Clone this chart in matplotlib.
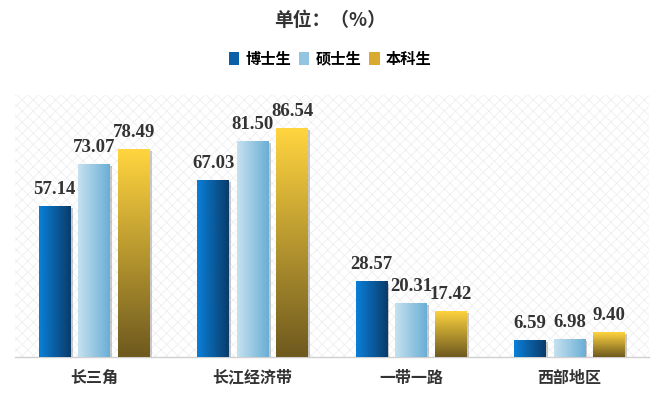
import numpy as np
import matplotlib
matplotlib.use('Agg')
import matplotlib.pyplot as plt
import matplotlib.patheffects as pe
from matplotlib.colors import LinearSegmentedColormap
from matplotlib.patches import Patch

regions = ['长三角', '长江经济带', '一带一路', '西部地区']
series_names = ['博士生', '硕士生', '本科生']
phd = [57.14, 67.03, 28.57, 6.59]
master = [73.07, 81.50, 20.31, 6.98]
bachelor = [78.49, 86.54, 17.42, 9.40]

cjk = ['Noto Sans CJK SC', 'DejaVu Sans']
num_font = 'Liberation Serif'
plt.rcParams['hatch.linewidth'] = 0.5
plt.rcParams['hatch.color'] = '#ececec'

# gradient colours: (start, end, direction)
grads = [
    (['#0a7fd8', '#0a3c6a'], 'h'),
    (['#c6e1ef', '#6aafd6'], 'h'),
    (['#ffd43f', '#6f5a1f'], 'v'),
]
legend_cols = ['#0a5fa8', '#93c5e2', '#d9aa30']

fig = plt.figure(figsize=(6.64, 3.98), dpi=100)
ax = fig.add_axes([0.0226, 0.103, 0.9545, 0.658])
ax.patch.set_facecolor('white')
ax.patch.set_hatch('xxx')
ax.patch.set_edgecolor('#ececec')

x = np.arange(len(regions))
width = 0.2
step = 0.25
data = [phd, master, bachelor]

for i, vals in enumerate(data):
    cols, direction = grads[i]
    cmap = LinearSegmentedColormap.from_list('g%d' % i, cols)
    pos = x + (i - 1) * step
    bars = ax.bar(pos, vals, width, color='#999999', zorder=2,
                  path_effects=[pe.SimplePatchShadow(offset=(1.5, -1.5), shadow_rgbFace='#888888', alpha=0.45),
                                pe.Normal()])
    for b, v in zip(bars, vals):
        x0, w, h = b.get_x(), b.get_width(), b.get_height()
        if direction == 'h':
            g = np.linspace(0, 1, 64).reshape(1, -1)
        else:
            g = np.linspace(1, 0, 64).reshape(-1, 1)
        im = ax.imshow(g, cmap=cmap, extent=[x0, x0 + w, 0, h], aspect='auto',
                       origin='lower', zorder=3, interpolation='bicubic')
        im.set_clip_path(b)
        ax.text(b.get_x() + w / 2, h + 3.0, '%.2f' % v, ha='center', va='bottom',
                fontsize=13.5, fontweight='bold', family=num_font, color='#333333', zorder=4)

ax.set_xlim(-0.5, 3.5)
ax.set_ylim(0, 99)
ax.set_yticks([])
ax.set_xticks(x)
ax.set_xticklabels(regions, fontsize=11.5, fontweight='bold', family=cjk, color='#333333')
ax.tick_params(axis='x', length=0, pad=9)
for s in ['top', 'left', 'right']:
    ax.spines[s].set_visible(False)
ax.spines['bottom'].set_color('#d0d0d0')
ax.spines['bottom'].set_linewidth(1)

fig.text(0.497, 0.948, '单位：（%）', ha='center', va='center', fontsize=13.5,
         fontweight='bold', family=cjk, color='#333333')

handles = [Patch(facecolor=c, edgecolor='none') for c in legend_cols]
fig.legend(handles, series_names, loc='center', bbox_to_anchor=(0.497, 0.853), ncol=3, frameon=False,
           prop={'family': cjk, 'weight': 'bold', 'size': 11}, handlelength=0.7, handleheight=0.9,
           handletextpad=0.4, columnspacing=0.5)

fig.savefig('out.png', dpi=100)
